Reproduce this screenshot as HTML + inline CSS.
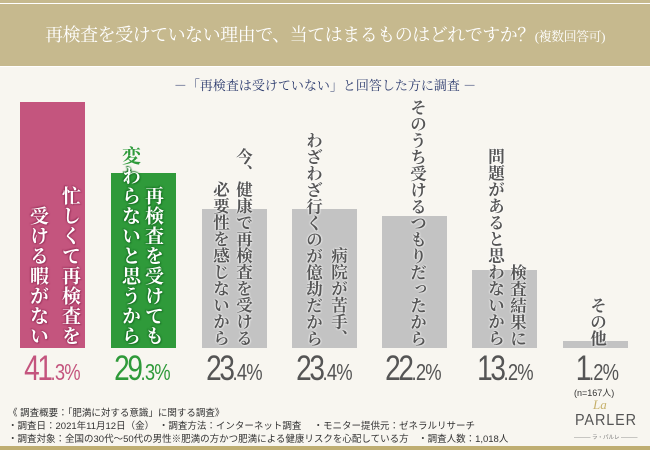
<!DOCTYPE html>
<html><head><meta charset="utf-8"><style>
*{margin:0;padding:0;box-sizing:border-box}
body{width:650px;height:450px;background:#f8f6f0;position:relative;overflow:hidden;font-family:"Liberation Serif","Noto Serif CJK SC",serif}
.hdr{position:absolute;left:0;top:0;width:650px;height:67px;background:#c6b98e}
.hl{position:absolute;left:0;width:650px;height:1px;background:#fff}
.title{position:absolute;top:21px;left:0;width:650px;text-align:center;color:#fff;font-size:18px;letter-spacing:-0.5px}
.title small{font-size:13px}
.sub{position:absolute;top:75px;left:0;width:650px;text-align:center;color:#2c3b6e;font-size:13px}
.bar{position:absolute}
.col{position:absolute;writing-mode:vertical-rl;bottom:104px;line-height:1;white-space:nowrap}
.w{color:#fff;font-weight:bold;font-size:19px;letter-spacing:1px}
.pk{text-shadow:0 0 2px #a33a63,0 0 2px #a33a63,1px 1px 1px #a33a63,-1px -1px 1px #a33a63}
.gr{text-shadow:0 0 2px #1f7a2b,0 0 2px #1f7a2b,1px 1px 1px #1f7a2b,-1px -1px 1px #1f7a2b}
.g{color:#555;font-size:16.5px;font-weight:bold;text-shadow:0 0 2px #fff,0 0 2px #fff}
.pct{position:absolute;top:349px;width:100px;text-align:center;font-family:"Liberation Sans",sans-serif;font-size:35px;letter-spacing:-3px;transform:scaleX(0.8)}
.pct span{font-size:23px;letter-spacing:-1px}
.foot{position:absolute;left:8px;font-size:9.5px;color:#333;font-family:"Liberation Sans","Noto Sans CJK JP",sans-serif}
</style></head><body>
<div class="hdr"></div>
<div class="hl" style="top:3px"></div>
<div class="hl" style="top:66px"></div>
<div class="title">再検査を受けていない理由で、当てはまるものはどれですか？<small>(複数回答可)</small></div>
<div class="sub">－「再検査は受けていない」と回答した方に調査 －</div>

<div class="bar" style="left:20px;width:65px;top:102px;height:246px;background:#c4557e"></div>
<div class="bar" style="left:111px;width:65px;top:173px;height:175px;background:#2f9a3a"></div>
<div class="bar" style="left:202px;width:65px;top:209px;height:139px;background:#c3c3c3"></div>
<div class="bar" style="left:292px;width:65px;top:209px;height:139px;background:#c3c3c3"></div>
<div class="bar" style="left:382px;width:65px;top:216px;height:132px;background:#c3c3c3"></div>
<div class="bar" style="left:472px;width:65px;top:270px;height:78px;background:#c3c3c3"></div>
<div class="bar" style="left:563px;width:65px;top:341px;height:7px;background:#c3c3c3"></div>

<div class="col w pk" style="left:60px">忙しくて再検査を</div>
<div class="col w pk" style="left:28px">受ける暇がない</div>
<div class="col w gr" style="left:143px">再検査を受けても</div>
<div class="col w" style="left:120px;color:#2f9a3a;text-shadow:0 0 2px #fff">変<span style="color:#fff;text-shadow:0 0 2px #1f7a2b,0 0 2px #1f7a2b,1px 1px 1px #1f7a2b,-1px -1px 1px #1f7a2b">わらないと思うから</span></div>
<div class="col g" style="left:234px">今、健康で再検査を受ける</div>
<div class="col g" style="left:211px">必要性を感じないから</div>
<div class="col g" style="left:329px">病院が苦手、</div>
<div class="col g" style="left:304px">わざわざ行くのが億劫だから</div>
<div class="col g" style="left:408px">そのうち受けるつもりだったから</div>
<div class="col g" style="left:508px">検査結果に</div>
<div class="col g" style="left:486px">問題があると思わないから</div>
<div class="col g" style="left:588px">その他</div>

<div class="pct" style="left:2px;color:#c4557e">41<span>.3%</span></div>
<div class="pct" style="left:92px;color:#2f9a3a">29<span>.3%</span></div>
<div class="pct" style="left:184px;color:#555">23<span>.4%</span></div>
<div class="pct" style="left:274px;color:#555">23<span>.4%</span></div>
<div class="pct" style="left:363px;color:#555">22<span>.2%</span></div>
<div class="pct" style="left:455px;color:#555">13<span>.2%</span></div>
<div class="pct" style="left:547px;color:#555">1<span>.2%</span></div>
<div class="foot" style="left:574px;top:386px;font-size:9px">(n=167人)</div>

<div class="foot" style="top:405px">《 調査概要：「肥満に対する意識」に関する調査》</div>
<div class="foot" style="top:418px">・調査日：2021年11月12日（金）　・調査方法：インターネット調査　 ・モニター提供元：ゼネラルリサーチ</div>
<div class="foot" style="top:431px">・調査対象：全国の30代～50代の男性※肥満の方かつ肥満による健康リスクを心配している方　・調査人数：1,018人</div>
<div style="position:absolute;left:593px;top:397px;color:#c6b06a;font-style:italic;font-size:13px">La</div>
<div style="position:absolute;left:575px;top:412px;color:#555;font-family:'Liberation Sans',sans-serif;font-size:16px;letter-spacing:1px;transform:scaleX(0.9);transform-origin:left">PARLER</div>
<div style="position:absolute;left:574px;top:433px;color:#777;font-size:5.5px;font-family:'Liberation Sans','Noto Sans CJK JP',sans-serif">――― ラ・パルレ ―――</div>
<div style="position:absolute;left:0;top:446px;width:650px;height:4px;background:#bfae72"></div>
</body></html>
